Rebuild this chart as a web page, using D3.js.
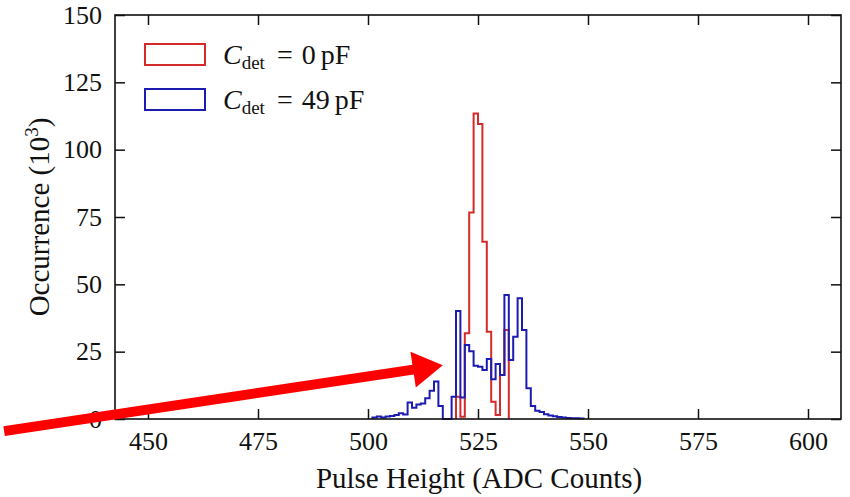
<!DOCTYPE html>
<html>
<head>
<meta charset="utf-8">
<script src="https://cdn.jsdelivr.net/npm/d3@7"></script>
<style>
  html, body { margin: 0; padding: 0; background: #fff; }
  #chart { width: 850px; height: 497px; }
  svg text { font-family: "Liberation Serif", "DejaVu Serif", serif; fill: #111; }
</style>
</head>
<body>
<div id="chart"></div>
<script>
// Histogram bins, 1 ADC count wide; each array starts at its first bin edge
const redStart = 520;
const redCounts = [8.3, 0.8, 31.8, 76.7, 113.4, 109.5, 65.8, 32.4, 6.4, 1.5, 16.3, 33.0];

const blueStart = 501;
const blueCounts = [
    0.6, 0.9, 0.6, 0.9, 1.1, 1.5, 2.1, 1.7, 6.1, 4.2, 5.4, 5.8, 7.7, 10.5, 13.9, 4.8,
    0, 0, 8.3, 40.1, 8.0, 27.5, 25.2, 19.8, 19.4, 18.2, 22.3, 14.8, 20.4, 16.3,
    46.0, 21.9, 30.5, 44.8, 33.0, 11.4, 4.8, 3.1, 2.6, 1.8, 1.3, 1.0, 0.7, 0.6,
    0.4, 0.3, 0.3, 0.2
];

const xTicks = [450, 475, 500, 525, 550, 575, 600];
const yTicks = [0, 25, 50, 75, 100, 125, 150];

const legendLabels = ["0", "49"];

// annotation arrow (data coords): tail off-chart on the left, tip near 517
const arrowTail = [417.3, -4.5];
const arrowTip = [517.0, 20.0];

const width = 850, height = 497;
const margins = { top: 15, right: 9, bottom: 78, left: 115 };

const svg = d3.select("#chart").append("svg")
    .attr("width", width)
    .attr("height", height);

const x = d3.scaleLinear()
    .domain([442.5, 607.5])
    .range([margins.left, width - margins.right]);

const y = d3.scaleLinear()
    .domain([0, 150])
    .range([height - margins.bottom, margins.top]);

const red = "#d42a2a";
const blue = "#1c1cb0";

// step outline of a histogram, starting and ending on the baseline
function stepPoints(start, counts) {
    const pts = [[start, 0]];
    counts.forEach((c, i) => {
        pts.push([start + i, c]);
        pts.push([start + i + 1, c]);
    });
    pts.push([start + counts.length, 0]);
    return pts;
}

const line = d3.line()
    .x(d => x(d[0]))
    .y(d => y(d[1]));

svg.append("path")
    .attr("d", line(stepPoints(redStart, redCounts)))
    .attr("fill", "none")
    .attr("stroke", red)
    .attr("stroke-width", 2);

svg.append("path")
    .attr("d", line(stepPoints(blueStart, blueCounts)))
    .attr("fill", "none")
    .attr("stroke", blue)
    .attr("stroke-width", 2);

// Axes: ticks point inward on all four sides
const tickLen = 10;
const bottomAxis = d3.axisBottom(x).tickValues(xTicks).tickSize(-tickLen).tickPadding(13);
const topAxis = d3.axisTop(x).tickValues(xTicks).tickSize(-tickLen).tickFormat("");
const leftAxis = d3.axisLeft(y).tickValues(yTicks).tickSize(-tickLen).tickPadding(13);
const rightAxis = d3.axisRight(y).tickValues(yTicks).tickSize(-tickLen).tickFormat("");

svg.append("g")
    .attr("transform", `translate(0,${height - margins.bottom})`)
    .call(bottomAxis);
svg.append("g")
    .attr("transform", `translate(0,${margins.top})`)
    .call(topAxis);
svg.append("g")
    .attr("transform", `translate(${margins.left},0)`)
    .call(leftAxis);
svg.append("g")
    .attr("transform", `translate(${width - margins.right},0)`)
    .call(rightAxis);

svg.selectAll(".domain").remove();
svg.selectAll(".tick line").attr("stroke", "#111").attr("stroke-width", 1.5);
svg.selectAll(".tick text").attr("font-size", 26).attr("fill", "#111");

// frame
svg.append("rect")
    .attr("x", margins.left)
    .attr("y", margins.top)
    .attr("width", width - margins.left - margins.right)
    .attr("height", height - margins.top - margins.bottom)
    .attr("fill", "none")
    .attr("stroke", "#111")
    .attr("stroke-width", 1.6);

// axis titles
svg.append("text")
    .attr("x", 479)
    .attr("y", 488)
    .attr("text-anchor", "middle")
    .attr("font-size", 29)
    .text("Pulse Height (ADC Counts)");

const yTitle = svg.append("text")
    .attr("transform", `translate(49,${(margins.top + height - margins.bottom) / 2}) rotate(-90)`)
    .attr("text-anchor", "middle")
    .attr("font-size", 29);
yTitle.append("tspan").text("Occurrence (10");
yTitle.append("tspan").attr("font-size", 19).attr("dy", -11).text("3");
yTitle.append("tspan").attr("dy", 11).text(")");

// legend
const legend = svg.append("g").attr("transform", "translate(145,44)");
[red, blue].forEach((c, i) => {
    const g = legend.append("g").attr("transform", `translate(0,${i * 45})`);
    g.append("rect")
        .attr("width", 60)
        .attr("height", 21)
        .attr("fill", "none")
        .attr("stroke", c)
        .attr("stroke-width", 2);
    const t = g.append("text")
        .attr("x", 78)
        .attr("y", 20)
        .attr("font-size", 28);
    t.append("tspan").attr("font-style", "italic").text("C");
    t.append("tspan").attr("font-size", 19).attr("dy", 5).text("det");
    t.append("tspan").attr("dy", -5).attr("dx", 12).text("=");
    t.append("tspan").attr("dx", 9).text(legendLabels[i]);
    t.append("tspan").attr("dx", 5).text("pF");
});

// red annotation arrow
const [tx0, ty0] = [x(arrowTail[0]), y(arrowTail[1])];
const [tx1, ty1] = [x(arrowTip[0]), y(arrowTip[1])];
const ang = Math.atan2(ty1 - ty0, tx1 - tx0);
const headLen = 30, headHalf = 18, shaft = 5;
const bx = tx1 - headLen * Math.cos(ang), by = ty1 - headLen * Math.sin(ang);
const nx = -Math.sin(ang), ny = Math.cos(ang);
const arrowPts = [
    [tx0 + nx * shaft, ty0 + ny * shaft],
    [bx + nx * shaft, by + ny * shaft],
    [bx + nx * headHalf, by + ny * headHalf],
    [tx1, ty1],
    [bx - nx * headHalf, by - ny * headHalf],
    [bx - nx * shaft, by - ny * shaft],
    [tx0 - nx * shaft, ty0 - ny * shaft]
];
svg.append("polygon")
    .attr("points", arrowPts.map(p => p.join(",")).join(" "))
    .attr("fill", "#ff0000");
</script>
</body>
</html>
